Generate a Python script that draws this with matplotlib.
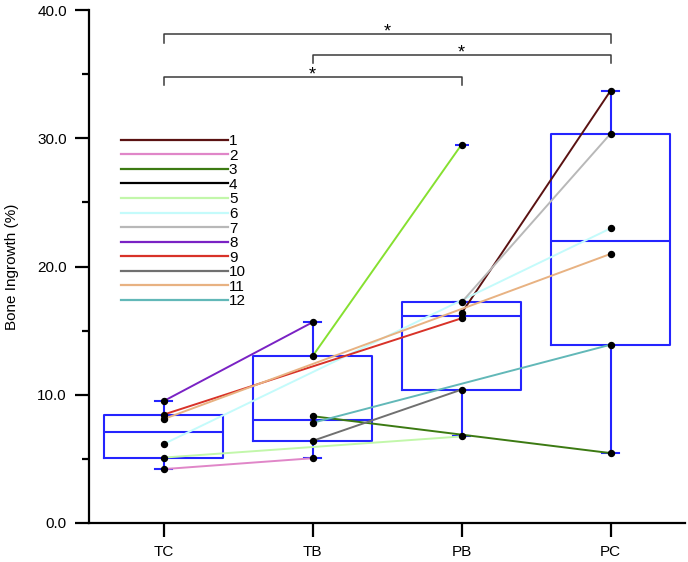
import numpy as np
import matplotlib
matplotlib.use('Agg')
import matplotlib.pyplot as plt
from matplotlib.lines import Line2D

plt.rcParams['font.family'] = ['Liberation Sans', 'DejaVu Sans']
plt.rcParams['font.size'] = 11

groups = ['TC', 'TB', 'PB', 'PC']

# one line per subject: each subject was measured in two of the groups
subjects = ['1', '2', '3', '4', '5', '6', '7', '8', '9', '10', '11', '12']
first_group = ['PB', 'TC', 'TB', 'TB', 'TC', 'TC', 'PB', 'TC', 'TC', 'TB', 'TC', 'TB']
second_group = ['PC', 'TB', 'PC', 'PB', 'PB', 'PC', 'PC', 'TB', 'PB', 'PB', 'PC', 'PC']
first_value = [16.35, 4.2, 8.33, 13.0, 5.1, 6.15, 17.2, 9.5, 8.45, 6.4, 8.1, 7.81]
second_value = [33.7, 5.05, 5.45, 29.5, 6.75, 22.97, 30.35, 15.65, 15.96, 10.4, 20.98, 13.9]

line_colors = ['#5a1212', '#e086c8', '#3c7a12', '#86e030', '#c2f7aa', '#c4fbfb',
               '#b8b8b8', '#7a22c4', '#d83228', '#707070', '#e8b282', '#62b8b8']
legend_colors = ['#5a1212', '#e086c8', '#3c7a12', '#000000', '#c2f7aa', '#c4fbfb',
                 '#b8b8b8', '#7a22c4', '#d83228', '#707070', '#e8b282', '#62b8b8']

# significance brackets (group a, group b, bracket height)
sig_a = ['TC', 'TB', 'TC']
sig_b = ['PC', 'PC', 'PB']
sig_y = [38.1, 36.5, 34.8]


def hinge_stats(vals):
    # Tukey hinges, whiskers to the last point within 1.5 IQR
    v = np.sort(vals)
    n = len(v)
    half = (n + 1) // 2
    q1, q3 = np.median(v[:half]), np.median(v[n - half:])
    iqr = q3 - q1
    inside = v[(v >= q1 - 1.5 * iqr) & (v <= q3 + 1.5 * iqr)]
    out = v[(v < q1 - 1.5 * iqr) | (v > q3 + 1.5 * iqr)]
    return dict(med=np.median(v), q1=q1, q3=q3,
                whislo=inside.min(), whishi=inside.max(), fliers=out)


pos = {g: i + 1 for i, g in enumerate(groups)}
group_vals = {g: [] for g in groups}
for ga, gb, va, vb in zip(first_group, second_group, first_value, second_value):
    group_vals[ga].append(va)
    group_vals[gb].append(vb)

fig = plt.figure(figsize=(6.88, 5.62), dpi=100)
ax = fig.add_axes([89 / 688, 39 / 562, 596 / 688, 513 / 562])

blue = '#2424ff'
stats = [hinge_stats(group_vals[g]) for g in groups]
ax.bxp(stats, positions=[pos[g] for g in groups], widths=0.8, capwidths=0.11,
       showfliers=True, manage_ticks=False,
       boxprops=dict(color=blue, linewidth=1.5),
       medianprops=dict(color=blue, linewidth=1.5),
       whiskerprops=dict(color=blue, linewidth=1.5),
       capprops=dict(color=blue, linewidth=1.5),
       flierprops=dict(marker='_', markeredgecolor=blue, markersize=10, markeredgewidth=1.5),
       zorder=2)

for ga, gb, va, vb, c in zip(first_group, second_group, first_value, second_value, line_colors):
    ax.plot([pos[ga], pos[gb]], [va, vb], color=c, lw=1.4, zorder=3)

for g in groups:
    ax.plot([pos[g]] * len(group_vals[g]), group_vals[g], 'o', color='black', ms=4.3, zorder=4)

for a, b, y in zip(sig_a, sig_b, sig_y):
    ax.plot([pos[a], pos[a], pos[b], pos[b]], [y - 0.65, y, y, y - 0.65],
            color='#3a3a3a', lw=1.1, zorder=3)
    ax.text((pos[a] + pos[b]) / 2, y - 0.5, '*', ha='center', va='bottom', fontsize=13)

handles = [Line2D([], [], color=c, lw=1.6) for c in legend_colors]
ax.legend(handles, subjects, loc='upper left', bbox_to_anchor=(0.054, 0.758),
          frameon=False, handlelength=7.0, handletextpad=0.05, labelspacing=0.037,
          borderpad=0, borderaxespad=0, fontsize=11)

ax.set_xlim(0.5, 4.5)
ax.set_ylim(0, 40)
ax.set_xticks([pos[g] for g in groups])
ax.set_xticklabels(groups)
ax.set_yticks([0, 10, 20, 30, 40])
ax.set_yticklabels(['0.0', '10.0', '20.0', '30.0', '40.0'])
ax.set_yticks([5, 15, 25, 35], minor=True)
ax.tick_params(axis='both', which='major', length=10, width=1.6, pad=6)
ax.tick_params(axis='y', which='minor', length=5, width=1.6)
ax.set_ylabel('Bone Ingrowth (%)', labelpad=13)
for s in ['top', 'right']:
    ax.spines[s].set_visible(False)
for s in ['left', 'bottom']:
    ax.spines[s].set_linewidth(1.6)

fig.savefig('out.png', dpi=100)
